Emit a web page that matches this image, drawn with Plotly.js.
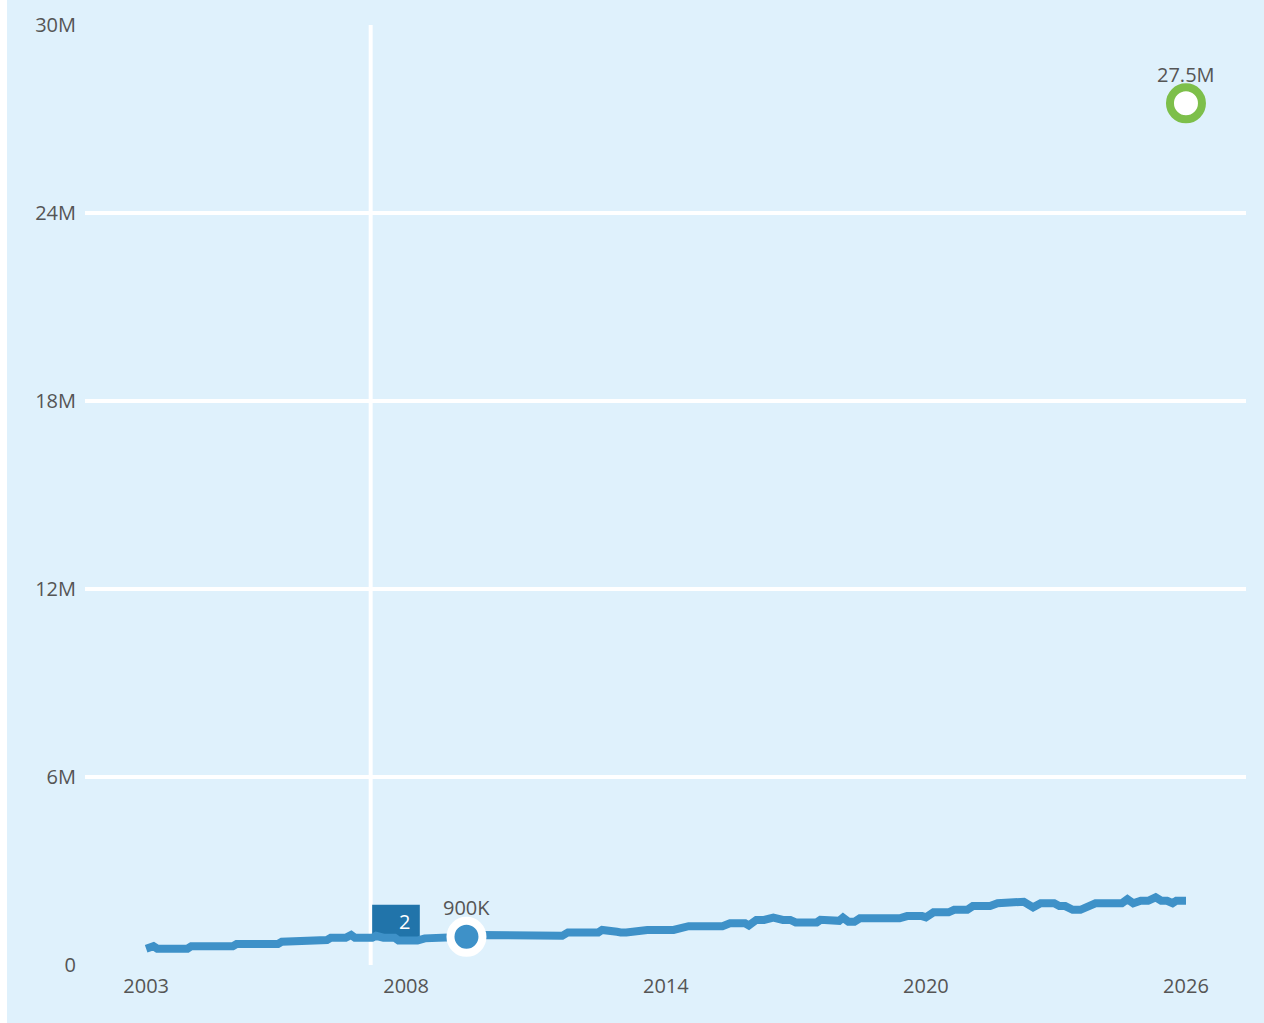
<!DOCTYPE html>
<html>
<head>
<meta charset="utf-8">
<script src="https://cdn.plot.ly/plotly-3.0.1.min.js"></script>
<style>
  html, body { margin: 0; padding: 0; background: #ffffff; }
  #chart { position: absolute; left: 7px; top: 0; width: 1257px; height: 1023px; }
</style>
</head>
<body>
<div id="chart"></div>
<script>
// Main series (date, value)
const dates = [
  "2003-01-01","2003-03-01","2003-04-01","2003-12-01","2004-01-01","2004-12-01",
  "2005-01-01","2005-12-01","2006-01-01","2006-08-01","2006-09-01","2007-01-01",
  "2007-02-01","2007-06-01","2007-07-15","2007-08-15","2008-01-01","2008-02-01",
  "2008-04-01","2008-07-01","2008-08-01","2009-01-01","2009-03-01","2009-09-01",
  "2010-02-01","2010-06-01","2012-02-01","2012-03-15","2012-05-01","2013-01-01",
  "2013-02-01","2013-04-01","2013-06-01","2013-07-01","2013-08-15","2014-02-01",
  "2014-03-01","2014-09-01","2015-01-01","2015-10-01","2015-12-01","2016-04-01",
  "2016-05-01","2016-07-01","2016-09-01","2016-11-15","2017-02-01","2017-04-01",
  "2017-05-15","2017-11-01","2017-12-01","2018-05-01","2018-06-01","2018-07-15",
  "2018-09-01","2018-10-15","2019-09-01","2019-11-01","2020-03-01","2020-04-01",
  "2020-06-01","2020-10-01","2020-11-15","2021-03-01","2021-04-15","2021-09-01",
  "2021-11-01","2022-01-01","2022-02-01","2022-06-01","2022-08-15","2022-10-15",
  "2023-02-01","2023-03-15","2023-05-01","2023-07-01","2023-09-01","2023-11-01",
  "2024-01-01","2024-08-01","2024-09-15","2024-11-01","2025-01-01","2025-03-01",
  "2025-05-01","2025-06-15","2025-08-01","2025-09-15","2025-10-15","2026-01-01"
];
const values = [
  520000,600000,520000,520000,600000,600000,
  670000,670000,740000,740000,800000,800000,
  870000,870000,960000,870000,870000,930000,
  870000,870000,780000,780000,850000,850000,
  900000,960000,960000,930000,1040000,1040000,
  1120000,1120000,1060000,1040000,1040000,1120000,
  1120000,1120000,1240000,1240000,1330000,1330000,
  1260000,1440000,1440000,1510000,1440000,1440000,
  1360000,1360000,1440000,1410000,1510000,1380000,
  1380000,1490000,1490000,1560000,1560000,1520000,
  1680000,1680000,1760000,1760000,1880000,1880000,
  1970000,1970000,2020000,2020000,1840000,1970000,
  1970000,1880000,1880000,1760000,1760000,1900000,
  1970000,1970000,2100000,1970000,2050000,2050000,
  2160000,2050000,2050000,1970000,2050000,2050000
];

// Highlighted points
const highlightDate = ["2010-02-01"];
const highlightValue = [900000];
const highlightLabel = ["900K"];
const targetDate = ["2026-01-01"];
const targetValue = [27500000];
const targetLabel = ["27.5M"];

// Event marker
const eventDate = "2007-12-20";
const eventLabel = "2";

// Axis ticks
const xTickVals = ["2003-01-01","2008-10-01","2014-07-01","2020-04-01","2026-01-01"];
const xTickText = ["2003","2008","2014","2020","2026"];
const yTickVals = [0, 6000000, 12000000, 18000000, 24000000, 30000000];
const yTickText = ["0","6M","12M","18M","24M","30M"];

const lineColor = "#3e91c8";
const bg = "#dff1fc";
const textColor = "#555555";
const fontFam = "Open Sans";
const fs = 20;

const traces = [
  {
    x: dates, y: values, type: "scatter", mode: "lines",
    line: { color: lineColor, width: 8 },
    hoverinfo: "skip"
  },
  {
    x: highlightDate, y: highlightValue,
    type: "scatter", mode: "markers",
    marker: { size: 32, color: lineColor, line: { color: "#ffffff", width: 8 } },
    cliponaxis: false, hoverinfo: "skip"
  },
  {
    x: targetDate, y: targetValue,
    type: "scatter", mode: "markers",
    marker: { size: 32, color: "#ffffff", line: { color: "#7dbf4a", width: 8 } },
    cliponaxis: false, hoverinfo: "skip"
  }
];

const labelAnn = (xs, ys, ts) => xs.map((x, i) => ({
  x: x, y: ys[i], xref: "x", yref: "y", text: ts[i], showarrow: false,
  yshift: 29, font: { family: fontFam, size: fs, color: textColor }
}));

const layout = {
  width: 1257, height: 1023,
  paper_bgcolor: bg, plot_bgcolor: bg,
  margin: { l: 78, r: 18, t: 25, b: 58 },
  showlegend: false,
  font: { family: fontFam, size: fs, color: textColor },
  xaxis: {
    type: "date",
    range: ["2001-08-25", "2027-05-01"],
    tickvals: xTickVals, ticktext: xTickText,
    showgrid: false, zeroline: false, showline: false,
    ticks: "", ticklabelstandoff: 7,
    tickfont: { family: fontFam, size: fs, color: textColor }
  },
  yaxis: {
    range: [0, 30000000],
    tickvals: yTickVals, ticktext: yTickText,
    showgrid: true, gridcolor: "#ffffff", gridwidth: 4,
    zeroline: false, showline: false, ticks: "",
    ticklabelstandoff: 8,
    tickfont: { family: fontFam, size: fs, color: textColor }
  },
  shapes: [
    {
      type: "rect", layer: "between", xref: "x", yref: "y",
      x0: "2008-01-01", x1: "2009-01-20", y0: 880000, y1: 1920000,
      fillcolor: "#2174aa", line: { width: 0 }
    },
    {
      type: "line", layer: "between", xref: "x", yref: "paper",
      x0: eventDate, x1: eventDate, y0: 0, y1: 1,
      line: { color: "#ffffff", width: 4 }
    }
  ],
  annotations: [
    {
      x: "2008-09-20", y: 1380000, xref: "x", yref: "y",
      text: eventLabel, showarrow: false,
      font: { family: fontFam, size: fs, color: "#ffffff" }
    }
  ].concat(labelAnn(highlightDate, highlightValue, highlightLabel))
   .concat(labelAnn(targetDate, targetValue, targetLabel))
};

Plotly.newPlot("chart", traces, layout, { displayModeBar: false, staticPlot: true });
</script>
</body>
</html>
